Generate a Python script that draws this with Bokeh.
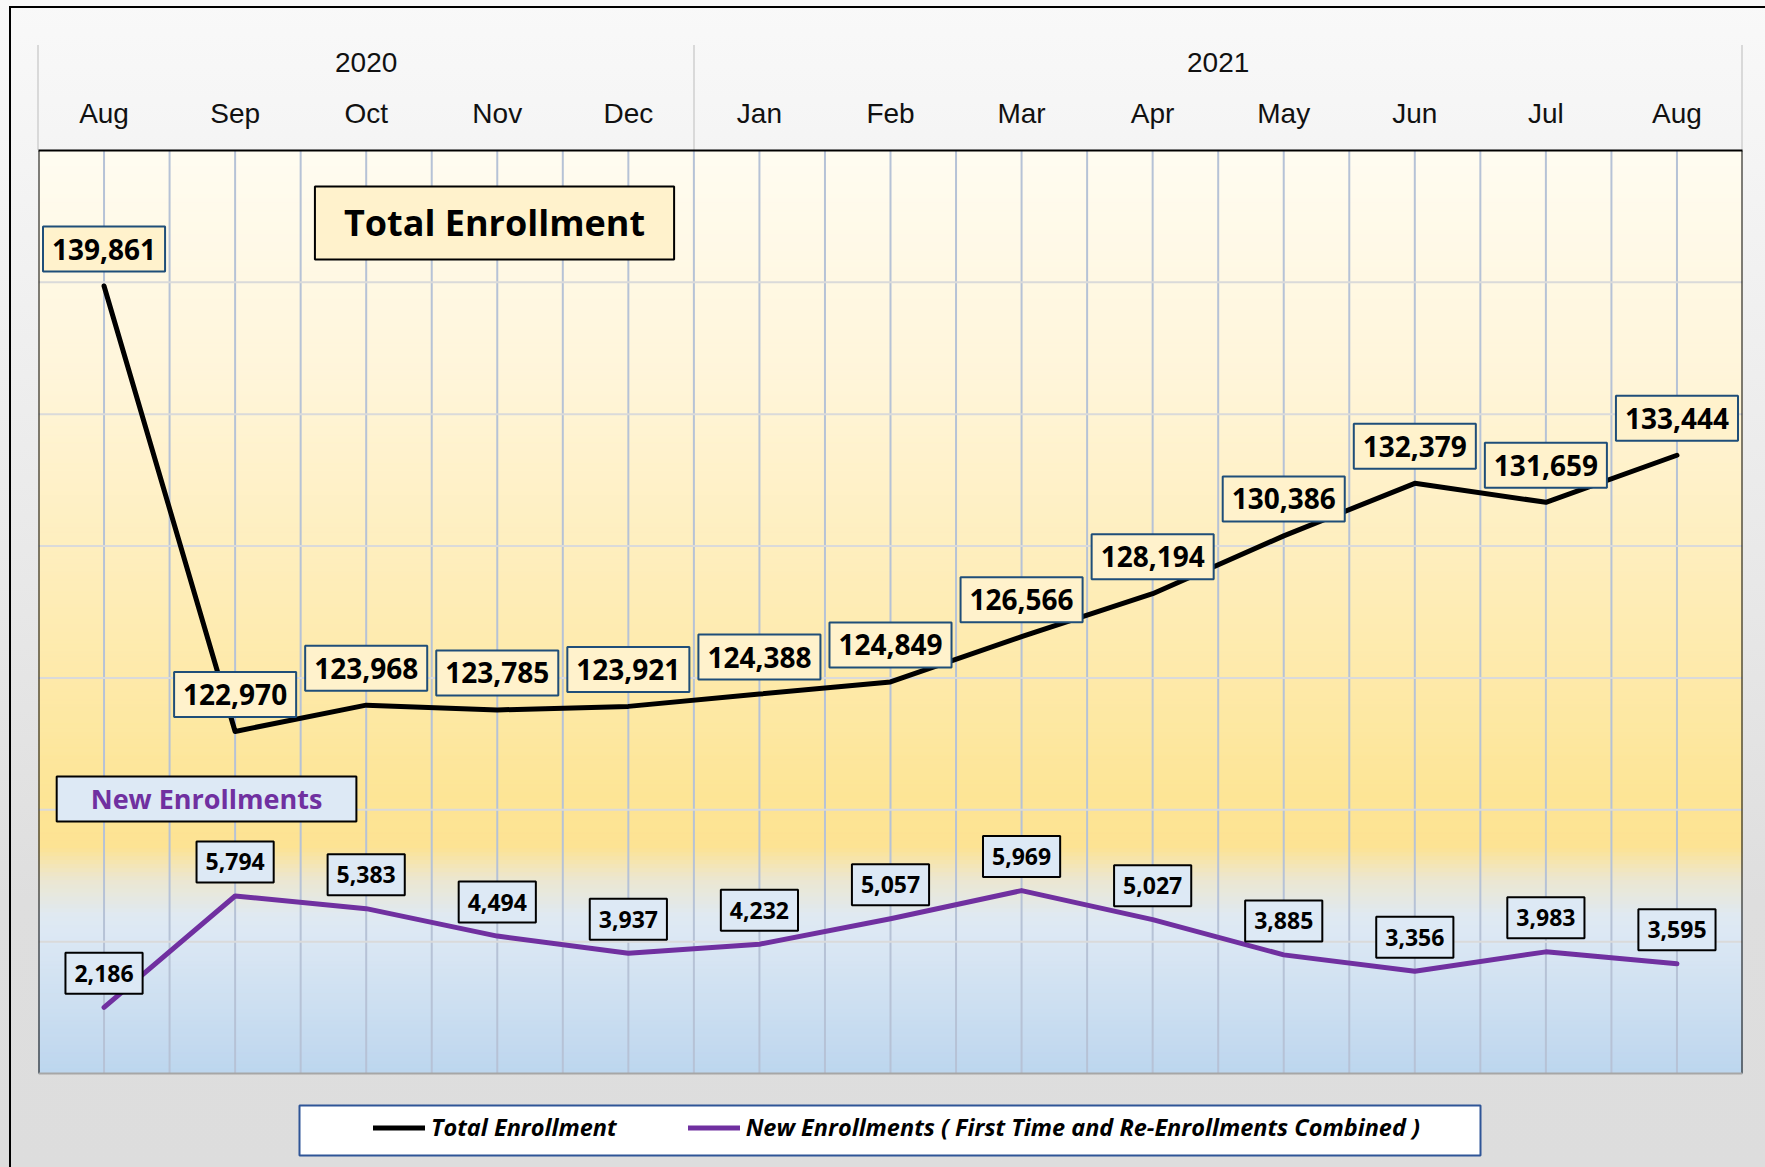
from bokeh.plotting import figure
from bokeh.models import (FactorRange, Range1d, ColumnDataSource, Label, Legend,
                          LegendItem, BoxAnnotation, CategoricalAxis)
from bokeh.core.properties import value
from bokeh.embed import file_html
from bokeh.resources import INLINE

# ---------------- data ----------------
years = ["2020"] * 5 + ["2021"] * 8
months = ["Aug", "Sep", "Oct", "Nov", "Dec", "Jan", "Feb", "Mar", "Apr", "May", "Jun", "Jul", "Aug"]
total_enrollment = [139861, 122970, 123968, 123785, 123921, 124388, 124849,
                    126566, 128194, 130386, 132379, 131659, 133444]
new_enrollments = [2186, 5794, 5383, 4494, 3937, 4232, 5057,
                   5969, 5027, 3885, 3356, 3983, 3595]
total_label = "Total Enrollment"
new_label = "New Enrollments ( First Time and Re-Enrollments Combined )"

factors = list(zip(years, months))
NF = len(factors)

# ---------------- layout ----------------
W, H = 1765, 1167
FL, FR, FT, FB = 38, 1742, 150, 1073          # plot-area edges (px)
Y0, Y1 = 110000, 145000                         # total-enrollment axis
N0, N1 = 40, 29960                              # new-enrollment axis
# frame runs to the canvas bottom so the legend area is drawable; ranges are
# extended so that the plot area [Y0, Y1] still maps onto FT..FB
ext = (H - FT) / (FB - FT)
Y0e = Y1 - (Y1 - Y0) * ext
N0e = N1 - (N1 - N0) * ext

p = figure(width=W, height=H,
           x_range=FactorRange(factors=factors, factor_padding=0, group_padding=0, range_padding=0),
           y_range=Range1d(Y0e, Y1), x_axis_location="above", y_axis_location=None,
           output_backend="svg", toolbar_location=None,
           min_border_left=FL, min_border_right=W - FR, min_border_top=FT, min_border_bottom=0)
p.extra_y_ranges = {"new": Range1d(N0e, N1)}
p.border_fill_color = None
p.background_fill_color = None
p.outline_line_color = None
p.grid.visible = False

p.styles = {
    "background": (
        "linear-gradient(#000,#000) 9px 6px / 2px 1161px no-repeat, "
        "linear-gradient(#000,#000) 9px 6px / 1756px 2px no-repeat, "
        "linear-gradient(#d9d9d9,#d9d9d9) 37px 45px / 2px 105px no-repeat, "
        "linear-gradient(#d9d9d9,#d9d9d9) 693px 45px / 2px 105px no-repeat, "
        "linear-gradient(#d9d9d9,#d9d9d9) 1741px 45px / 2px 105px no-repeat, "
        "linear-gradient(180deg, #f9f9f9 0px, #f3f3f3 200px, #e9e9e9 550px, #dedede 900px, #dddddd 1167px)"
    )
}

# ---------------- plot-area gradient ----------------
stops = [(0.00, (0xff, 0xfc, 0xf1)), (0.25, (0xff, 0xf5, 0xd9)), (0.50, (0xfe, 0xec, 0xb4)),
         (0.70, (0xfd, 0xe5, 0x96)), (0.755, (0xfd, 0xe3, 0x93)), (0.79, (0xec, 0xe7, 0xd0)),
         (0.83, (0xdf, 0xe9, 0xf2)), (0.85, (0xdc, 0xe8, 0xf4)), (1.00, (0xbd, 0xd6, 0xee))]


def col_at(f):
    for (a, ca), (b, cb) in zip(stops[:-1], stops[1:]):
        if a <= f <= b:
            t = (f - a) / (b - a) if b > a else 0
            c = [round(ca[i] + (cb[i] - ca[i]) * t) for i in range(3)]
            return "#%02x%02x%02x" % tuple(c)
    return "#%02x%02x%02x" % stops[-1][1]


NB = 230
band_top, band_bot, band_col = [], [], []
for i in range(NB):
    f0, f1 = i / NB, (i + 1) / NB
    band_top.append(Y1 - f0 * (Y1 - Y0))
    band_bot.append(Y1 - f1 * (Y1 - Y0))
    band_col.append(col_at((f0 + f1) / 2))
p.quad(left=0, right=NF, top=band_top, bottom=band_bot,
       fill_color=band_col, line_color=band_col, line_width=1)

# ---------------- grid ----------------
vx = [k * 0.5 for k in range(1, 2 * NF)]
p.segment(x0=vx, y0=Y0, x1=vx, y1=Y1, line_color="#b6c2d6", line_width=2)
hy = list(range(Y0 + 5000, Y1, 5000))
p.segment(x0=0, y0=hy, x1=NF, y1=hy, line_color="#dadada", line_width=2)

# plot-area border (top edge is the axis line)
p.segment(x0=[0, NF], y0=Y0, x1=[0, NF], y1=Y1, line_color="black", line_width=2)
p.segment(x0=0, y0=Y0, x1=NF, y1=Y0, line_color="#a6a6a6", line_width=2)

# ---------------- series ----------------
src = ColumnDataSource(dict(
    x=factors, total=total_enrollment, new=new_enrollments,
    total_txt=[f"{v:,}" for v in total_enrollment],
    new_txt=[f"{v:,}" for v in new_enrollments]))

r_tot = p.line("x", "total", source=src, line_color="black", line_width=5,
               line_join="round", line_cap="round")
r_new = p.line("x", "new", source=src, y_range_name="new", line_color="#7030a0",
               line_width=5, line_join="round", line_cap="round")

p.text("x", "total", text="total_txt", source=src, y_offset=-37,
       text_align="center", text_baseline="middle", text_font=value("Open Sans"),
       text_font_style="bold", text_font_size="28px", text_color="black",
       background_fill_color="#fff2cc", border_line_color="#1f4e79", border_line_width=2,
       padding=(9, 12))
p.text("x", "new", text="new_txt", source=src, y_range_name="new", y_offset=-34,
       text_align="center", text_baseline="middle", text_font=value("Open Sans"),
       text_font_style="bold", text_font_size="23px", text_color="black",
       background_fill_color="#dde9f5", border_line_color="black", border_line_width=2,
       padding=(9, 12))

# ---------------- title boxes ----------------
p.add_layout(Label(x=3.479, y=142251, text="Total Enrollment", text_align="center",
                   text_baseline="middle", text_font="Open Sans", text_font_style="bold",
                   text_font_size="36px", text_color="black",
                   background_fill_color="#fff2cc", border_line_color="black",
                   border_line_width=2, padding=(29, 12)))
p.add_layout(Label(x=1.282, y=120409, text="New Enrollments", text_align="center",
                   text_baseline="middle", text_font="Open Sans", text_font_style="bold",
                   text_font_size="27px", text_color="#7030a0",
                   background_fill_color="#dde9f5", border_line_color="black",
                   border_line_width=2, padding=(34, 4)))

# ---------------- axes (header) ----------------
# inner axis: month names
ax = p.xaxis[0]
ax.axis_line_color = "black"
ax.axis_line_width = 2
ax.major_tick_line_color = None
ax.minor_tick_line_color = None
ax.major_label_standoff = 16
ax.major_label_text_font = "Liberation Sans"
ax.major_label_text_font_size = "28px"
ax.major_label_text_color = "#111111"
ax.group_text_color = None
ax.separator_line_color = None

# outer axis: years
ax_y = CategoricalAxis(axis_line_color=None, major_tick_line_color=None,
                       minor_tick_line_color=None, major_label_text_color=None,
                       major_label_standoff=17, separator_line_color=None,
                       group_text_font="Liberation Sans", group_text_font_size="28px",
                       group_text_font_style="normal", group_text_color="#111111")
p.add_layout(ax_y, "above")

# ---------------- legend ----------------
p.add_layout(BoxAnnotation(left=299, right=1480, top=1105, bottom=1155,
                           left_units="canvas", right_units="canvas",
                           top_units="canvas", bottom_units="canvas",
                           fill_color="white", fill_alpha=1,
                           line_color="#2f5597", line_alpha=1, line_width=2))
legend = Legend(items=[LegendItem(label=total_label, renderers=[r_tot]),
                       LegendItem(label=new_label, renderers=[r_new])],
                orientation="horizontal", location=(335, 24), padding=0, margin=0,
                spacing=71, glyph_width=52, glyph_height=31, label_height=31,
                label_standoff=6, border_line_color=None, background_fill_alpha=0,
                label_text_font="Open Sans", label_text_font_style="bold italic",
                label_text_font_size="23.5px", label_text_color="black")
p.add_layout(legend, "center")

open("out.html", "w").write(file_html(p, INLINE))
